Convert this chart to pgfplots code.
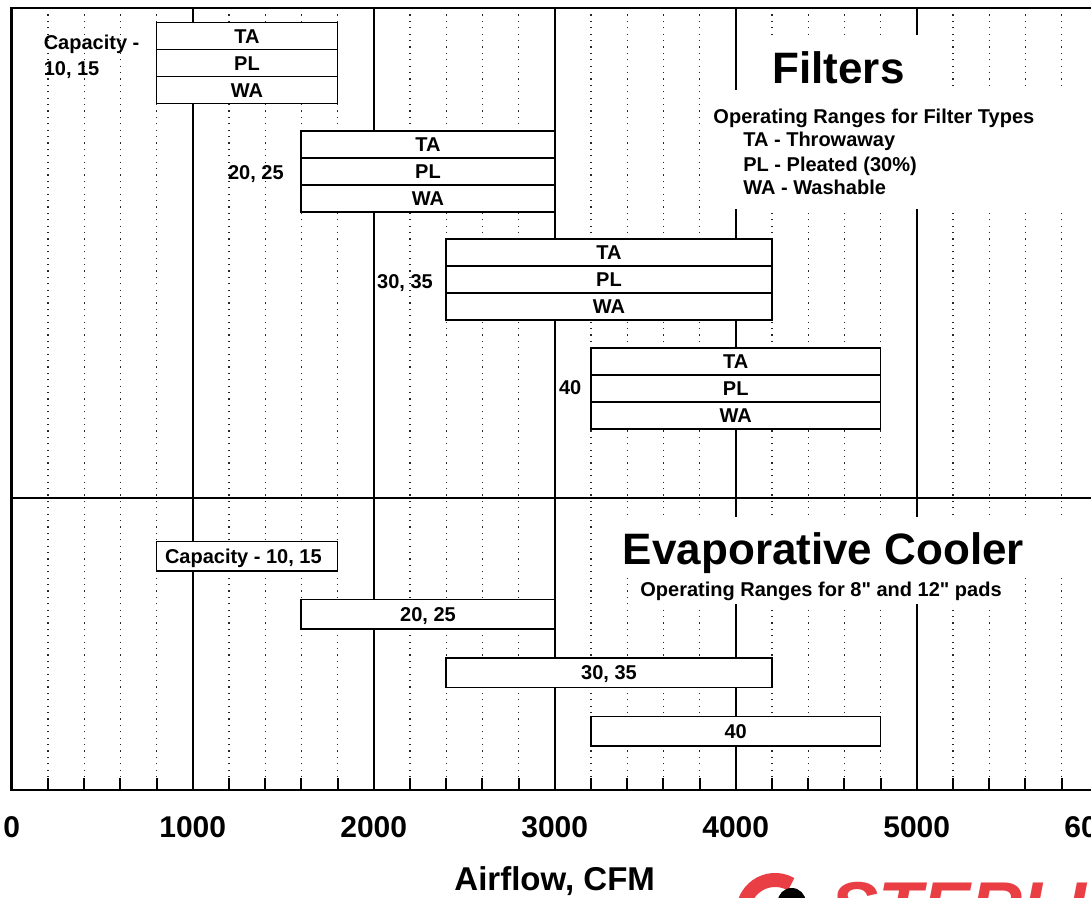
\documentclass[border=0pt]{standalone}
\usepackage{pgfplots}
\pgfplotsset{compat=1.18}
\usepackage{fontspec}
\setmainfont{Liberation Sans}
\definecolor{logored}{RGB}{232,62,68}
\newcommand{\inch}{\XeTeXglyph\XeTeXcharglyph"22\relax}
\pgfplotsset{
  rng/.style={draw=black, fill=white, line width=0.9pt, line join=miter, forget plot},
}
\tikzset{
  lab/.style={font=\bfseries\fontsize{10}{12}\selectfont, inner sep=0pt},
  bl/.style={lab, text height=7.2pt, text depth=0pt, anchor=center},
}
\begin{document}
\begin{tikzpicture}
\begin{axis}[
  at={(0,0)}, anchor=south west,
  scale only axis, width=543pt, height=391pt,
  xmin=0, xmax=6000, ymin=0, ymax=782,
  clip=false,
  axis line style={line width=1.3pt},
  xtick={0,1000,...,6000},
  minor x tick num=4,
  ytick=\empty,
  xtick pos=left,
  tick align=inside,
  major tick length=6pt, minor tick length=6pt,
  tick style={black, line width=1pt},
  grid=both,
  major grid style={black, line width=0.9pt},
  minor grid style={black!85, line width=0.6pt, dash pattern=on 0.6pt off 2.6pt},
  /pgf/number format/assume math mode=true,
  /pgf/number format/1000 sep={},
  xticklabel style={font=\bfseries\fontsize{15}{18}\selectfont, anchor=center, yshift=-18.5pt},
  xlabel={Airflow, CFM},
  xlabel style={font=\bfseries\fontsize{16.5}{20}\selectfont, at={(axis description cs:0.5,0)}, anchor=center, yshift=-45.5pt},
]
% section divider
\addplot[black, line width=1.2pt, forget plot] coordinates {(0,292) (6000,292)};

% ---- Filters: capacity 10,15 (800-1800)
\addplot[rng] coordinates {(800,767.5) (1800,767.5) (1800,740.5) (800,740.5)} -- cycle;
\addplot[rng] coordinates {(800,740.5) (1800,740.5) (1800,713.5) (800,713.5)} -- cycle;
\addplot[rng] coordinates {(800,713.5) (1800,713.5) (1800,686.5) (800,686.5)} -- cycle;
% ---- Filters: capacity 20,25 (1600-3000)
\addplot[rng] coordinates {(1600,659) (3000,659) (3000,632) (1600,632)} -- cycle;
\addplot[rng] coordinates {(1600,632) (3000,632) (3000,605) (1600,605)} -- cycle;
\addplot[rng] coordinates {(1600,605) (3000,605) (3000,578) (1600,578)} -- cycle;
% ---- Filters: capacity 30,35 (2400-4200)
\addplot[rng] coordinates {(2400,551) (4200,551) (4200,524) (2400,524)} -- cycle;
\addplot[rng] coordinates {(2400,524) (4200,524) (4200,497) (2400,497)} -- cycle;
\addplot[rng] coordinates {(2400,497) (4200,497) (4200,470) (2400,470)} -- cycle;
% ---- Filters: capacity 40 (3200-4800)
\addplot[rng] coordinates {(3200,442) (4800,442) (4800,415) (3200,415)} -- cycle;
\addplot[rng] coordinates {(3200,415) (4800,415) (4800,388) (3200,388)} -- cycle;
\addplot[rng] coordinates {(3200,388) (4800,388) (4800,361) (3200,361)} -- cycle;

% ---- Evaporative cooler ranges
\addplot[rng] coordinates {(800,248.5) (1800,248.5) (1800,219) (800,219)} -- cycle;
\addplot[rng] coordinates {(1600,190.5) (3000,190.5) (3000,161) (1600,161)} -- cycle;
\addplot[rng] coordinates {(2400,132) (4200,132) (4200,102.5) (2400,102.5)} -- cycle;
\addplot[rng] coordinates {(3200,73.5) (4800,73.5) (4800,44) (3200,44)} -- cycle;

% row labels
\node[bl] at (axis cs:1300,754) {TA};
\node[bl] at (axis cs:1300,727) {PL};
\node[bl] at (axis cs:1300,700) {WA};
\node[bl] at (axis cs:2300,645.5) {TA};
\node[bl] at (axis cs:2300,618.5) {PL};
\node[bl] at (axis cs:2300,591.5) {WA};
\node[bl] at (axis cs:3300,537.5) {TA};
\node[bl] at (axis cs:3300,510.5) {PL};
\node[bl] at (axis cs:3300,483.5) {WA};
\node[bl] at (axis cs:4000,428.5) {TA};
\node[bl] at (axis cs:4000,401.5) {PL};
\node[bl] at (axis cs:4000,374.5) {WA};

\node[bl] at (axis cs:1280,233.75) {Capacity - 10, 15};
\node[bl] at (axis cs:2300,175.75) {20, 25};
\node[bl] at (axis cs:3300,117.25) {30, 35};
\node[bl] at (axis cs:4000,58.75) {40};

% capacity labels for filters
\node[lab, anchor=base west] at (axis cs:175,740) {Capacity -};
\node[lab, anchor=base west] at (axis cs:175,714) {10, 15};
\node[lab, anchor=base east] at (axis cs:1505,610) {20, 25};
\node[lab, anchor=base east] at (axis cs:2329,501.7) {30, 35};
\node[lab, anchor=base east] at (axis cs:3149,395) {40};

% title blocks
\fill[white] (axis cs:4050,755) rectangle (axis cs:5050,698);
\fill[white] (axis cs:3840,700) rectangle (axis cs:6000,581);
\node[anchor=base, inner sep=0pt, font=\bfseries\fontsize{22}{26}\selectfont] at (axis cs:4568,706) {Filters};
\node[lab, anchor=base west] at (axis cs:3875,666) {Operating Ranges for Filter Types};
\node[lab, anchor=base west] at (axis cs:4040,643) {TA - Throwaway};
\node[lab, anchor=base west] at (axis cs:4040,618.5) {PL - Pleated (30\%)};
\node[lab, anchor=base west] at (axis cs:4040,595) {WA - Washable};

\fill[white] (axis cs:3250,273) rectangle (axis cs:5840,218);
\fill[white] (axis cs:3450,218) rectangle (axis cs:5520,186);
\node[anchor=base, inner sep=0pt, font=\bfseries\fontsize{22}{26}\selectfont] at (axis cs:4485,225) {Evaporative Cooler};
\node[lab, anchor=base west] at (axis cs:3471,193) {Operating Ranges for 8\inch{} and 12\inch{} pads};
\end{axis}

% partial logo at the bottom edge
\draw[logored, line width=7pt] (381.7pt,-61pt) ++(170:16pt) arc[start angle=170, end angle=60, radius=16pt];
\fill[black] (390pt,-56pt) circle[radius=7pt];
\node[anchor=north west, inner sep=0pt, text=logored, font=\bfseries\itshape\fontsize{36}{40}\selectfont] at (409.2pt,-46pt) {STERLING};

\pgfresetboundingbox
\path[use as bounding box] (-5.85pt,-54pt) rectangle (539.65pt,395pt);
\end{tikzpicture}
\end{document}
